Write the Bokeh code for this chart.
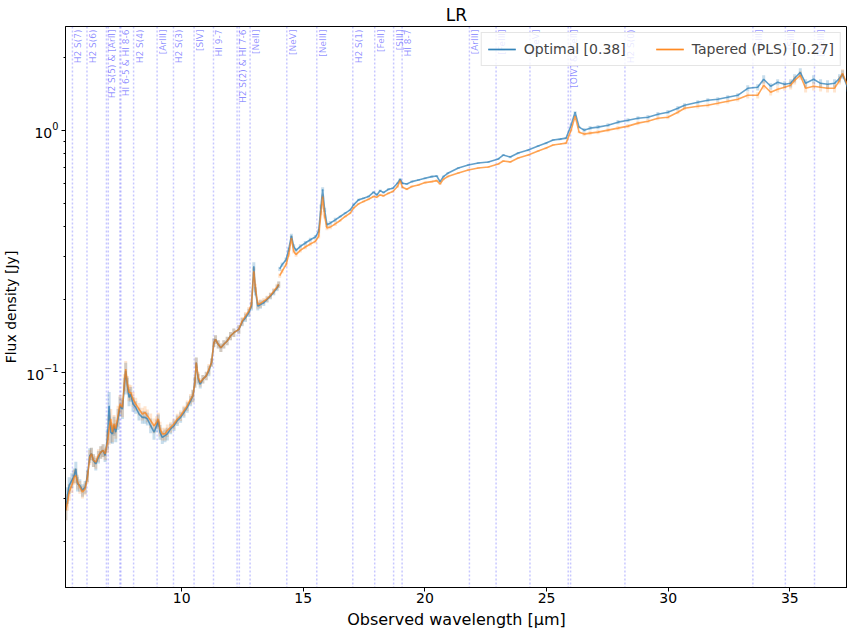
import numpy as np
from bokeh.plotting import figure
from bokeh.models import Span, FixedTicker, LogTickFormatter, Range1d
from bokeh.core.properties import value
from bokeh.embed import file_html
from bokeh.resources import INLINE

# ---------------- data ----------------
title_text = "LR"
legend_optimal = "Optimal [0.38]"
legend_tapered = "Tapered (PLS) [0.27]"
x_label = "Observed wavelength [μm]"
y_label = "Flux density [Jy]"
x_limits = (5.226, 37.37)
y_limits = (0.0129, 2.68)
x_ticks = [10, 15, 20, 25, 30, 35]
y_ticks = [0.1, 1.0]
y_minor_ticks = [0.02, 0.03, 0.04, 0.05, 0.06, 0.07, 0.08, 0.09,
                 0.2, 0.3, 0.4, 0.5, 0.6, 0.7, 0.8, 0.9, 2.0]

# channel 1 (short wavelengths)
wave_ch1 = [5.240, 5.309, 5.377, 5.487, 5.582, 5.651, 5.719, 5.815, 5.924, 6.033,
            6.129, 6.225, 6.293, 6.375, 6.471, 6.580, 6.676, 6.772, 6.854, 6.949,
            7.018, 7.086, 7.155, 7.223, 7.291, 7.387, 7.469, 7.565, 7.647, 7.701,
            7.770, 7.838, 7.907, 8.002, 8.112, 8.248, 8.385, 8.495, 8.590, 8.727,
            8.864, 8.973, 9.041, 9.110, 9.205, 9.315, 9.411, 9.547, 9.684, 9.821,
            9.957, 10.094, 10.231, 10.368, 10.463, 10.545, 10.600, 10.682, 10.764, 10.873,
            11.010, 11.120, 11.229, 11.325, 11.393, 11.502, 11.612, 11.735, 11.872, 12.008,
            12.145, 12.350, 12.487, 12.624, 12.760, 12.870, 12.966, 13.034, 13.130, 13.239,
            13.376, 13.512, 13.649, 13.786, 13.923, 13.991]
optimal_ch1 = [0.0269, 0.0310, 0.0341, 0.0357, 0.0374, 0.0399, 0.0346, 0.0341, 0.0325, 0.0335,
               0.0374, 0.0453, 0.0460, 0.0432, 0.0418, 0.0446, 0.0467, 0.0475, 0.0453, 0.0530,
               0.0727, 0.0565, 0.0556, 0.0601, 0.0565, 0.0641, 0.0727, 0.0704, 0.0879, 0.1013,
               0.0879, 0.0787, 0.0812, 0.0739, 0.0716, 0.0672, 0.0651, 0.0651, 0.0641, 0.0601,
               0.0565, 0.0601, 0.0631, 0.0565, 0.0538, 0.0547, 0.0556, 0.0583, 0.0601, 0.0631,
               0.0651, 0.0682, 0.0716, 0.0762, 0.0799, 0.0907, 0.1096, 0.0936, 0.0893, 0.0936,
               0.0966, 0.1013, 0.1096, 0.1325, 0.1367, 0.1304, 0.1263, 0.1304, 0.1346, 0.1411,
               0.1456, 0.1503, 0.1611, 0.1679, 0.1760, 0.1875, 0.2738, 0.2161, 0.1875, 0.1905,
               0.1935, 0.1997, 0.2061, 0.2141, 0.2230, 0.2302]
tapered_ch1 = [0.0269, 0.0291, 0.0320, 0.0341, 0.0369, 0.0374, 0.0352, 0.0335, 0.0320, 0.0330,
               0.0369, 0.0446, 0.0460, 0.0432, 0.0425, 0.0453, 0.0467, 0.0475, 0.0460, 0.0514,
               0.0583, 0.0641, 0.0565, 0.0611, 0.0583, 0.0661, 0.0739, 0.0716, 0.0907, 0.1029,
               0.0893, 0.0825, 0.0825, 0.0774, 0.0739, 0.0704, 0.0672, 0.0682, 0.0661, 0.0631,
               0.0601, 0.0621, 0.0641, 0.0583, 0.0556, 0.0556, 0.0574, 0.0592, 0.0611, 0.0641,
               0.0661, 0.0693, 0.0727, 0.0774, 0.0799, 0.0907, 0.1096, 0.0951, 0.0907, 0.0936,
               0.0966, 0.1029, 0.1096, 0.1325, 0.1367, 0.1304, 0.1263, 0.1304, 0.1346, 0.1411,
               0.1456, 0.1503, 0.1626, 0.1705, 0.1788, 0.1905, 0.2612, 0.2230, 0.1905, 0.1923,
               0.1966, 0.2010, 0.2074, 0.2161, 0.2251, 0.2302]
err_pct_ch1 = [9, 8, 8, 7, 7, 7, 7, 6, 6, 6,
               6, 7, 6, 6, 6, 6, 6, 6, 6, 10,
               14, 10, 9, 9, 9, 10, 9, 9, 8, 8,
               8, 8, 7, 7, 6, 6, 6, 6, 6, 7,
               7, 6, 6, 7, 6, 6, 6, 5, 5, 5,
               5, 5, 5, 5, 6, 5, 5, 5, 4, 4,
               4, 5, 4, 4, 4, 4, 4, 4, 4, 4,
               4, 4, 4, 4, 4, 4, 4, 4, 4, 4,
               3, 3, 3, 3, 3, 3]

# channel 2 (long wavelengths)
wave_ch2 = [14.032, 14.128, 14.292, 14.401, 14.511, 14.606, 14.702, 14.880, 15.085, 15.290,
            15.495, 15.632, 15.727, 15.796, 15.878, 15.973, 16.110, 16.315, 16.520, 16.725,
            16.930, 17.067, 17.272, 17.477, 17.682, 17.888, 18.024, 18.161, 18.298, 18.503,
            18.681, 18.872, 18.981, 19.077, 19.255, 19.460, 19.733, 20.007, 20.280, 20.485,
            20.622, 20.759, 20.937, 21.374, 21.784, 22.194, 22.605, 23.015, 23.220, 23.507,
            23.835, 24.245, 24.655, 24.983, 25.270, 25.557, 25.803, 26.008, 26.173, 26.337,
            26.542, 26.788, 27.116, 27.526, 27.937, 28.347, 28.757, 29.167, 29.577, 29.988,
            30.398, 30.673, 31.218, 31.628, 32.038, 32.448, 32.859, 33.269, 33.679, 33.925,
            34.212, 34.499, 34.786, 35.033, 35.197, 35.430, 35.648, 35.976, 36.263, 36.550,
            36.837, 37.043, 37.166, 37.371]
optimal_ch2 = [0.2670, 0.2781, 0.2917, 0.3208, 0.3662, 0.3311, 0.3187, 0.3311, 0.3417, 0.3526,
               0.3616, 0.3816, 0.4836, 0.5699, 0.4686, 0.4064, 0.4129, 0.4262, 0.4399, 0.4541,
               0.4686, 0.4913, 0.5151, 0.5233, 0.5317, 0.5540, 0.5401, 0.5628, 0.5522, 0.5699,
               0.5754, 0.6033, 0.6266, 0.6033, 0.5995, 0.6129, 0.6226, 0.6326, 0.6427, 0.6465,
               0.6129, 0.6427, 0.6634, 0.698, 0.718, 0.732, 0.739, 0.760, 0.789, 0.774,
               0.804, 0.827, 0.860, 0.884, 0.910, 0.918, 0.927, 1.048, 1.186, 1.029,
               1.000, 1.019, 1.029, 1.048, 1.079, 1.099, 1.120, 1.131, 1.164, 1.186,
               1.232, 1.267, 1.304, 1.329, 1.341, 1.367, 1.393, 1.489, 1.503, 1.622,
               1.518, 1.576, 1.547, 1.561, 1.637, 1.733, 1.561, 1.622, 1.561, 1.547,
               1.561, 1.637, 1.700, 1.503]
tapered_ch2 = [0.2506, 0.2612, 0.2781, 0.3059, 0.3582, 0.3157, 0.3059, 0.3187, 0.3290, 0.3385,
               0.3471, 0.3639, 0.4541, 0.5317, 0.4399, 0.3938, 0.3976, 0.4103, 0.4235, 0.4399,
               0.4541, 0.4761, 0.4960, 0.5071, 0.5184, 0.5317, 0.5283, 0.5401, 0.5351, 0.5487,
               0.5575, 0.5846, 0.6187, 0.5809, 0.5699, 0.5846, 0.5939, 0.6071, 0.6129, 0.6187,
               0.5995, 0.6266, 0.6427, 0.665, 0.685, 0.698, 0.704, 0.725, 0.746, 0.739,
               0.767, 0.789, 0.820, 0.843, 0.868, 0.876, 0.884, 1.000, 1.142, 0.981,
               0.963, 0.972, 0.981, 1.000, 1.019, 1.039, 1.069, 1.089, 1.120, 1.131,
               1.186, 1.232, 1.255, 1.267, 1.291, 1.316, 1.341, 1.393, 1.393, 1.532,
               1.434, 1.475, 1.503, 1.532, 1.606, 1.684, 1.489, 1.518, 1.503, 1.489,
               1.489, 1.606, 1.717, 1.532]
err_pct_ch2 = [2, 2, 2, 2, 2, 2, 2, 2, 2, 2,
               2, 2, 2, 2, 2, 2, 2, 2, 1, 1,
               1, 1, 1, 1, 1, 1, 1, 1, 1, 1,
               1, 1, 1, 1, 1, 1, 1, 1, 1, 1,
               1, 1, 1, 1, 1, 1, 1, 1, 1, 1,
               1, 1, 1, 1, 1, 1, 1, 1, 1, 1,
               2, 2, 2, 2, 2, 2, 2, 2, 2, 2,
               2, 2, 2, 2, 2, 2, 2, 3, 3, 4,
               3, 3, 3, 4, 4, 4, 4, 4, 4, 4,
               4, 4, 4, 4]

# emission lines (rest wavelengths, micron)
line_waves = [[5.511], [6.109], [6.909, 6.985], [7.460, 7.502], [8.025], [8.991], [9.665],
              [10.511], [11.309], [12.279, 12.372], [12.814], [14.322], [15.555], [17.035],
              [17.936], [18.713], [19.062], [21.829], [22.925], [24.318], [25.890, 25.988],
              [28.221], [33.481], [34.815], [36.014]]
line_names = ["H2 S(7)", "H2 S(6)", "H2 S(5) & [ArII]", "HI 6-5 & HI 8-6", "H2 S(4)", "[ArIII]",
              "H2 S(3)", "[SIV]", "HI 9-7", "H2 S(2) & HI 7-6", "[NeII]", "[NeV]", "[NeIII]",
              "H2 S(1)", "[FeII]", "[SIII]", "HI 8-7", "[ArIII]", "[FeIII]", "[NeV]",
              "[OIV] & [FeII]", "H2 S(0)", "[SIII]", "[SiII]", "[NeIII]"]

# ---------------- styling ----------------
BLUE = "#1f77b4"
ORANGE = "#ff7f0e"
FONT = "DejaVu Sans"

p = figure(frame_width=782, frame_height=561,
           x_range=Range1d(*x_limits), y_range=Range1d(*y_limits),
           y_axis_type="log", output_backend="svg", toolbar_location=None,
           min_border_left=58, min_border_right=0, min_border_top=18, min_border_bottom=0,
           title=title_text)
p.title.align = "center"
p.title.text_font = FONT
p.title.text_font_size = "17px"
p.title.text_font_style = "normal"
p.title.text_color = "black"
p.title.standoff = 4
p.xgrid.visible = False
p.ygrid.visible = False
p.outline_line_color = "black"
p.outline_line_width = 1
p.background_fill_color = "white"
p.border_fill_color = "white"

# vertical dotted lines
for ws in line_waves:
    for w in ws:
        p.add_layout(Span(location=w, dimension="height", line_color="blue",
                          line_alpha=0.22, line_dash="2 2", line_width=1.5, level="underlay"))

# line labels
p.text(x=[ws[0] for ws in line_waves], y=[y_limits[1]] * len(line_waves), text=line_names,
       angle=np.pi / 2, text_align="right", text_baseline="top",
       text_font=value(FONT), text_font_size="9px", text_color="blue", text_alpha=0.45,
       x_offset=1, y_offset=3)

# error bars + lines
for wl, fb, fo, ep in [(wave_ch1, optimal_ch1, tapered_ch1, err_pct_ch1),
                       (wave_ch2, optimal_ch2, tapered_ch2, err_pct_ch2)]:
    wl = np.array(wl)
    fb = np.array(fb)
    fo = np.array(fo)
    e = np.array(ep) / 100.0
    p.segment(wl, fb * (1 - e), wl, fb * (1 + e), line_color=BLUE, line_alpha=0.25, line_width=3)
    p.segment(wl, fo * (1 - e), wl, fo * (1 + e), line_color=ORANGE, line_alpha=0.2, line_width=3)

for wl, fb, fo in [(wave_ch1, optimal_ch1, tapered_ch1), (wave_ch2, optimal_ch2, tapered_ch2)]:
    p.line(wl, fb, line_color=BLUE, line_alpha=0.7, line_width=1.6, legend_label=legend_optimal)
    p.line(wl, fo, line_color=ORANGE, line_alpha=0.7, line_width=1.6, legend_label=legend_tapered)

# axes
p.xaxis.ticker = FixedTicker(ticks=x_ticks)
p.yaxis.ticker = FixedTicker(ticks=y_ticks, minor_ticks=y_minor_ticks)
p.yaxis.formatter = LogTickFormatter()
for ax in (p.xaxis[0], p.yaxis[0]):
    ax.axis_line_color = "black"
    ax.major_tick_line_color = "black"
    ax.major_tick_out = 4
    ax.major_tick_in = 0
    ax.minor_tick_out = 2
    ax.minor_tick_in = 0
    ax.major_label_text_font = FONT
    ax.major_label_text_font_size = "14px"
    ax.major_label_text_color = "black"
    ax.axis_label_text_font = FONT
    ax.axis_label_text_font_style = "normal"
    ax.axis_label_text_color = "black"
p.xaxis.major_label_standoff = 1
p.yaxis.major_label_standoff = 3
p.xaxis.minor_tick_line_color = None
p.xaxis.axis_label = x_label
p.xaxis.axis_label_text_font_size = "16px"
p.xaxis.axis_label_standoff = 4
p.yaxis.axis_label = y_label
p.yaxis.axis_label_text_font_size = "14px"
p.yaxis.axis_label_standoff = 4
p.yaxis.minor_tick_line_color = "black"

# legend
lg = p.legend[0]
lg.location = "top_right"
lg.orientation = "horizontal"
lg.margin = 6
lg.padding = 6
lg.spacing = 30
lg.glyph_width = 28
lg.label_standoff = 8
lg.label_text_font = FONT
lg.label_text_font_size = "14px"
lg.border_line_color = "#cccccc"
lg.border_line_width = 1
lg.background_fill_color = "white"
lg.background_fill_alpha = 0.8

open("out.html", "w").write(file_html(p, INLINE))
